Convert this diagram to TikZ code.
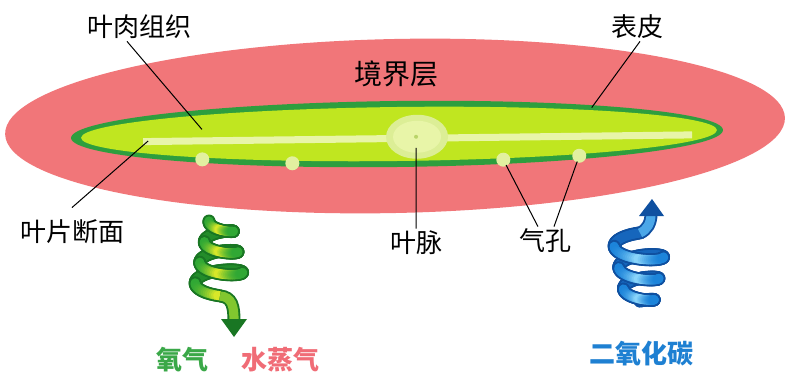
\documentclass[tikz,border=0pt]{standalone}
\usepackage{fontspec}
\setmainfont{Noto Sans CJK SC}
\usetikzlibrary{arrows.meta}

\definecolor{lapisan}{RGB}{241,118,121}
\definecolor{daunhijau}{RGB}{46,158,62}
\definecolor{daunmuda}{RGB}{192,230,32}
\definecolor{uratpucat}{RGB}{232,245,168}
\definecolor{uratcincin}{RGB}{220,238,150}
\definecolor{uratbintik}{RGB}{185,212,105}
\definecolor{stomata}{RGB}{226,240,160}
% spiral colours
\definecolor{hijautepi}{RGB}{25,118,35}
\definecolor{hijaubelakang}{RGB}{35,140,42}
\definecolor{hijaudasar}{RGB}{48,168,52}
\definecolor{hijauterang}{RGB}{228,236,40}
\definecolor{birutepi}{RGB}{15,80,160}
\definecolor{birubelakang}{RGB}{22,102,188}
\definecolor{birudasar}{RGB}{28,132,218}
\definecolor{biruterang}{RGB}{145,218,252}
% label colours
\definecolor{oksigen}{RGB}{58,168,72}
\definecolor{uapair}{RGB}{240,108,118}
\definecolor{karbon}{RGB}{30,128,210}

% helix: centre x, top y, bottom y, top radius, bottom radius, start and end angle
\newcommand\setcoil[7]{\def\hcx{#1}\def\hya{#2}\def\hyb{#3}%
  \def\hra{#4}\def\hrb{#5}\def\hs{#6}\def\he{#7}}
\def\hel{0.3}
\newcommand\coilpt[3]{%
  \pgfmathsetmacro\hu{(#1-\hs)/(\he-\hs)}%
  \pgfmathsetmacro\hr{\hra+(\hrb-\hra)*\hu}%
  \pgfmathsetmacro#2{\hcx-\hr*cos(#1)}%
  \pgfmathsetmacro#3{\hya+(\hyb-\hya)*\hu+\hel*\hr*sin(#1)}}
% #1 = 1 front half / 0 back half, #2 = width, #3 = colour
\newcommand\coilpass[3]{%
  \pgfmathtruncatemacro\hnext{\hs+5}%
  \pgfmathtruncatemacro\hlast{\he-5}%
  \foreach \t in {\hs,\hnext,...,\hlast}{%
    \pgfmathtruncatemacro\isf{sin(\t+2.5)>0}%
    \ifnum\isf=#1\relax
      \coilpt{\t}{\xa}{\ya}%
      \coilpt{\t+5}{\xb}{\yb}%
      \pgfmathtruncatemacro\hmix{100*(1-abs(cos(\t+2.5)))^1.5}%
      \draw[line width=#2, line cap=round, color=#3] (\xa,\ya) -- (\xb,\yb);
    \fi}}

\begin{document}
\begin{tikzpicture}[x=0.5pt, y=-0.5pt,
    teks/.style={font=\fontsize{13}{13}\selectfont, inner sep=1pt},
    gas/.style={font=\fontsize{13}{13}\selectfont\bfseries, inner sep=1pt},
    garis/.style={black, line width=0.5pt}
  ]
  \fill[white] (0,0) rectangle (786,374);
  \useasboundingbox (0,0) rectangle (786,374);

  % boundary layer and leaf section
  \fill[lapisan, rotate around={1.2:(395,125)}] (395,126) ellipse [x radius=390, y radius=87];
  \begin{scope}[rotate around={0.7:(397,134)}]
    \fill[daunhijau] (397,134) ellipse [x radius=326, y radius=33];
    \fill[daunmuda] (399,134) ellipse [x radius=318, y radius=27];
    \fill[uratpucat] (143,135) rectangle (692,142);
    \fill[uratcincin] (417,137) ellipse [x radius=31, y radius=22];
    \fill[uratpucat] (417,137) ellipse [x radius=24, y radius=16];
    \fill[uratbintik] (416,137) circle [radius=2];
    \foreach \x/\y [count=\i] in {202/157, 292/162, 503/161, 579/158} {
      \fill[stomata] (\x,\y) circle [radius=7];
      \coordinate (st\i) at (\x,\y);
    }
    \coordinate (mesoend) at (202,127);
    \coordinate (epiend) at (592,110);
    \coordinate (sectend) at (148,138);
    \coordinate (veinend) at (416,148);
  \end{scope}

  % green spiral, going down
  \setcoil{220}{221}{288}{11}{26}{0}{1170}
  \coilpass{0}{6.5pt}{hijautepi}
  \coilpass{0}{4.6pt}{hijaubelakang}
  \coilpass{1}{6.5pt}{hijautepi}
  \coilpass{1}{4.6pt}{hijauterang!\hmix!hijaudasar}
  \coordinate (gtail) at (220,296);
  \coordinate (gtip) at (234,321);
  \draw[hijautepi, line width=6.5pt] (gtail) .. controls (232,297) and (234,306) .. (gtip);
  \draw[hijauterang!45!hijaudasar, line width=4.6pt] (gtail) .. controls (232,297) and (234,306) .. (gtip);
  \fill[hijautepi] (221,319) -- (247,319) -- (234,337) -- cycle;

  % blue spiral, going up
  \setcoil{640}{241}{305}{27}{13}{270}{1350}
  \coilpass{0}{6.5pt}{birutepi}
  \coilpass{0}{4.6pt}{birubelakang}
  \coilpass{1}{6.5pt}{birutepi}
  \coilpass{1}{4.6pt}{biruterang!\hmix!birudasar}
  \coordinate (btail) at (640,233);
  \coordinate (btip) at (651,214);
  \draw[birutepi, line width=6.5pt] (btail) .. controls (647,230) and (651,223) .. (btip);
  \draw[biruterang!40!birudasar, line width=4.6pt] (btail) .. controls (647,230) and (651,223) .. (btip);
  \fill[birutepi] (639,216) -- (664,216) -- (652,199) -- cycle;

  % labels
  \node[teks] (meso) at (139,27) {叶肉组织};
  \node[teks] (epi) at (637,27) {表皮};
  \node[teks, font=\fontsize{14}{14}\selectfont] (layer) at (396,74) {境界层};
  \node[teks] (sect) at (72,232) {叶片断面};
  \node[teks] (vein) at (416,243) {叶脉};
  \node[teks] (pore) at (545,241) {气孔};
  \node[gas, text=oksigen] (o2) at (182,360) {氧气};
  \node[gas, text=uapair] (h2o) at (280,360) {水蒸气};
  \node[gas, text=karbon] (co2) at (641,354) {二氧化碳};

  \draw[garis] ([xshift=-6pt]meso.south) -- (mesoend);
  \draw[garis] ([xshift=1.5pt]epi.south) -- (epiend);
  \draw[garis] ([yshift=5pt]sect.north) -- (sectend);
  \draw[garis] (vein.north) -- (veinend);
  \draw[garis, shorten >=3pt] ([xshift=-3.5pt]pore.north) -- (st3);
  \draw[garis, shorten >=3pt] ([xshift=4.5pt]pore.north) -- (st4);
\end{tikzpicture}
\end{document}
